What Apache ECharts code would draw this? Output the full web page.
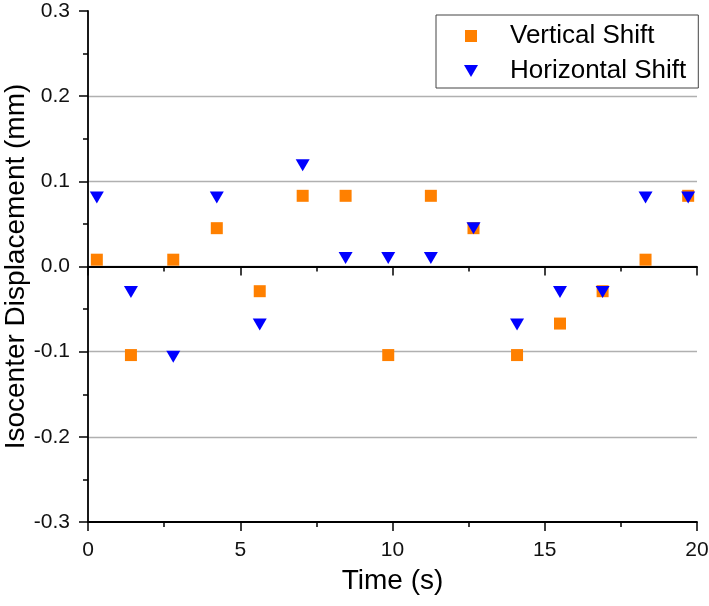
<!DOCTYPE html>
<html>
<head>
<meta charset="utf-8">
<script src="https://cdn.jsdelivr.net/npm/echarts@6/dist/echarts.min.js"></script>
<style>
html,body{margin:0;padding:0;background:#fff;}
#chart{width:709px;height:606px;}
</style>
</head>
<body>
<div id="chart"></div>
<script>
var seriesNames = ['Vertical Shift', 'Horizontal Shift'];
var time = [0.29, 1.41, 2.8, 4.23, 5.64, 7.05, 8.46, 9.86, 11.26, 12.66, 14.09, 15.5, 16.9, 18.31, 19.71];
var vertical = [0.008, -0.104, 0.008, 0.045, -0.029, 0.083, 0.083, -0.104, 0.083, 0.045, -0.104, -0.067, -0.029, 0.008, 0.083];
var horizontal = [0.081, -0.030, -0.106, 0.081, -0.068, 0.119, 0.010, 0.010, 0.010, 0.045, -0.068, -0.030, -0.030, 0.081, 0.081];
var xTitle = 'Time (s)';
var yTitle = 'Isocenter Displacement (mm)';

function pairs(xs, ys) { return xs.map(function (x, i) { return [x, ys[i]]; }); }

var FONT = '"Liberation Sans", Arial, sans-serif';
var TRI = 'path://M0,0 L14,0 L7,12 Z';
var SQ = 'path://M0,0 L10,0 L10,10 L0,10 Z';

var chart = echarts.init(document.getElementById('chart'), null, { renderer: 'canvas' });
chart.setOption({
  animation: false,
  backgroundColor: '#fff',
  textStyle: { fontFamily: FONT },
  grid: { left: 88, right: 12, top: 11, bottom: 84, containLabel: false, outerBoundsMode: 'none' },
  legend: {
    orient: 'vertical',
    left: 436,
    top: 15,
    padding: [8, 12, 4, 28],
    itemGap: 9,
    itemWidth: 68,
    itemHeight: 12,
    symbolKeepAspect: true,
    backgroundColor: '#fff',
    borderColor: '#444',
    borderWidth: 1,
    borderRadius: 0,
    textStyle: { fontFamily: FONT, fontSize: 26, color: '#000' },
    data: seriesNames
  },
  xAxis: [
    {
      type: 'value', min: 0, max: 20, interval: 5, position: 'bottom',
      axisLine: { onZero: false, lineStyle: { color: '#000', width: 1.8 } },
      axisTick: { show: true, length: 9, lineStyle: { color: '#000', width: 1.5 } },
      minorTick: { show: true, splitNumber: 2, length: 5, lineStyle: { color: '#000', width: 1.5 } },
      axisLabel: { fontSize: 21, color: '#111', margin: 18, fontFamily: FONT },
      splitLine: { show: false },
      name: xTitle, nameLocation: 'middle', nameGap: 45, nameMoveOverlap: false,
      nameTextStyle: { fontSize: 28, color: '#000', fontFamily: FONT }
    },
    {
      type: 'value', min: 0, max: 20, interval: 5, position: 'top',
      axisLine: { show: true, onZero: true, lineStyle: { color: '#000', width: 1.8 } },
      axisTick: { show: true, inside: true, length: 9, lineStyle: { color: '#000', width: 1.5 } },
      minorTick: { show: true, splitNumber: 2, length: 5, lineStyle: { color: '#000', width: 1.5 } },
      axisLabel: { show: false },
      splitLine: { show: false }
    }
  ],
  yAxis: {
    type: 'value', min: -0.3, max: 0.3, interval: 0.1,
    axisLine: { show: true, onZero: false, lineStyle: { color: '#000', width: 1.8 } },
    axisTick: { show: true, length: 9, lineStyle: { color: '#000', width: 1.5 } },
    minorTick: { show: true, splitNumber: 2, length: 5, lineStyle: { color: '#000', width: 1.5 } },
    axisLabel: {
      fontSize: 21, color: '#111', margin: 18, fontFamily: FONT,
      formatter: function (v) { return (Math.round(v * 10) / 10).toFixed(1); }
    },
    splitLine: { show: true, showMinLine: false, showMaxLine: false, lineStyle: { color: '#b0b0b0', width: 1.3 } },
    name: yTitle, nameLocation: 'middle', nameGap: 58, nameMoveOverlap: false,
    nameTextStyle: { fontSize: 28, color: '#000', fontFamily: FONT }
  },
  series: [
    {
      name: seriesNames[0], type: 'scatter', xAxisIndex: 0,
      symbol: SQ, symbolSize: 12,
      itemStyle: { color: '#FF8000', opacity: 1 },
      data: pairs(time, vertical)
    },
    {
      name: seriesNames[1], type: 'scatter', xAxisIndex: 0,
      symbol: TRI, symbolSize: [14, 12],
      itemStyle: { color: '#0000FF', opacity: 1 },
      data: pairs(time, horizontal)
    }
  ]
});
</script>
</body>
</html>
